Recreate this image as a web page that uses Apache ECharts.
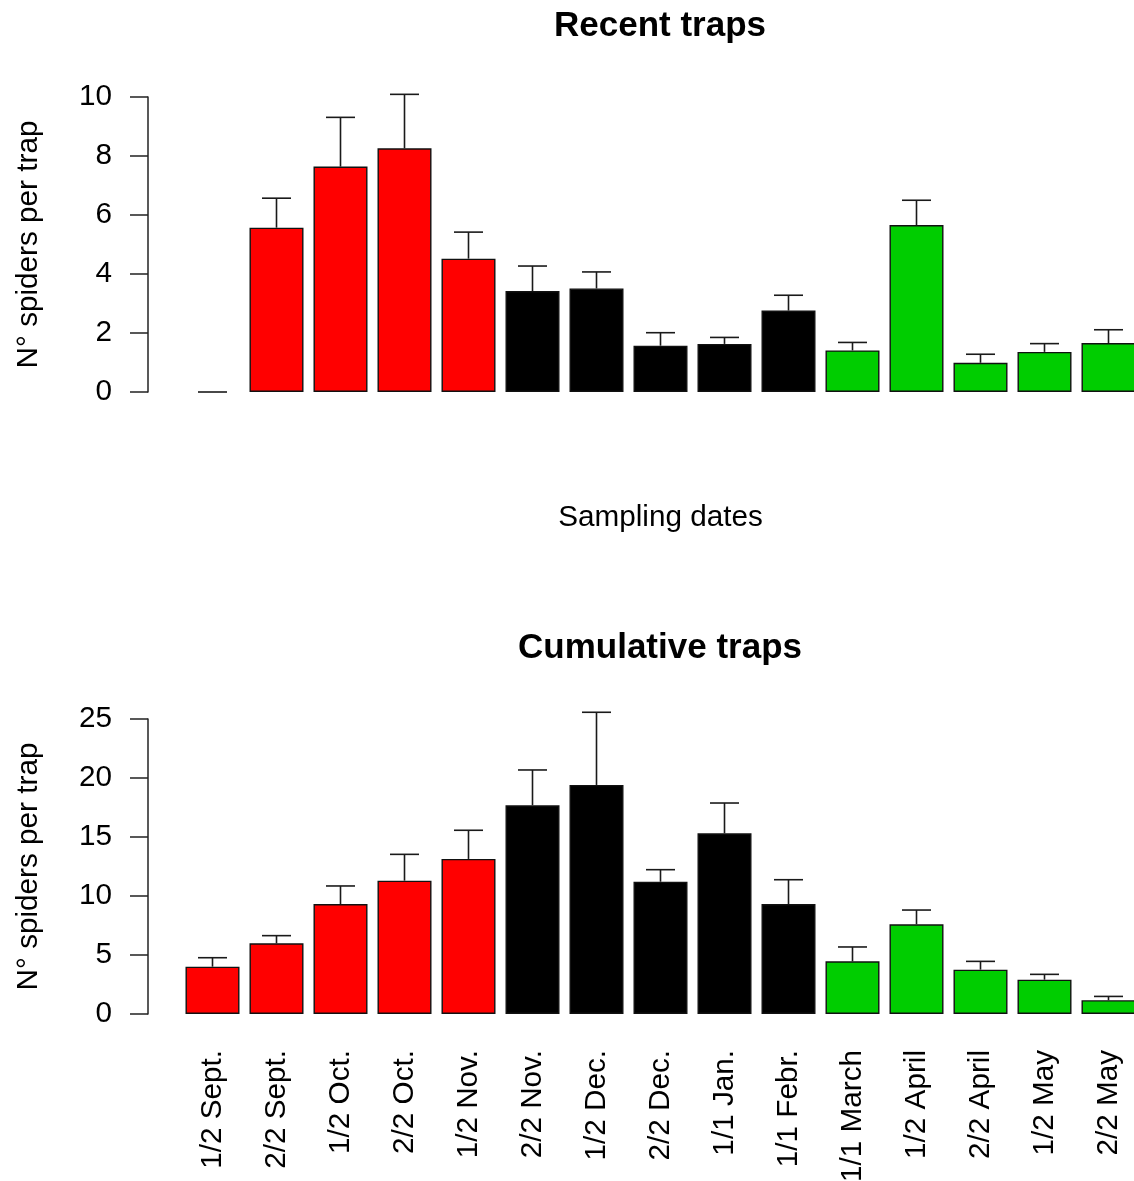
<!DOCTYPE html>
<html>
<head>
<meta charset="utf-8">
<script src="https://cdn.jsdelivr.net/npm/echarts@6/dist/echarts.min.js"></script>
<style>
  html, body { margin: 0; padding: 0; background: #fff; }
  #chart { width: 1134px; height: 1181px; }
</style>
</head>
<body>
<div id="chart"></div>
<script>
const categories = ['1/2 Sept.', '2/2 Sept.', '1/2 Oct.', '2/2 Oct.', '1/2 Nov.',
  '2/2 Nov.', '1/2 Dec.', '2/2 Dec.', '1/1 Jan.', '1/1 Febr.',
  '1/1 March', '1/2 April', '2/2 April', '1/2 May', '2/2 May'];
// season group per sampling date (0 = autumn, 1 = winter, 2 = spring)
const seasonGroup = [0, 0, 0, 0, 0, 1, 1, 1, 1, 1, 2, 2, 2, 2, 2];

const recentMean = [0, 5.57, 7.64, 8.26, 4.52, 3.42, 3.51, 1.57, 1.63, 2.76, 1.41, 5.66, 0.99, 1.36, 1.66];
const recentSE   = [0, 1.00, 1.67, 1.83, 0.90, 0.85, 0.56, 0.44, 0.22, 0.52, 0.27, 0.84, 0.29, 0.28, 0.45];

const cumulMean = [4.01, 5.99, 9.32, 11.30, 13.14, 17.69, 19.41, 11.21, 15.31, 9.32, 4.46, 7.60, 3.76, 2.91, 1.17];
const cumulSE   = [0.76, 0.65, 1.53, 2.23, 2.43, 2.99, 6.16, 1.02, 2.57, 2.06, 1.22, 1.21, 0.70, 0.45, 0.32];

const recentTicks = { min: 0, max: 10, interval: 2 };
const cumulTicks = { min: 0, max: 25, interval: 5 };

const titles = ['Recent traps', 'Cumulative traps'];
const yTitle = 'N° spiders per trap';
const xTitle = 'Sampling dates';

const FONT = '"Liberation Sans", Arial, Helvetica, sans-serif';
const FS = 29.7;
const palette = ['#FF0000', '#000000', '#00CD00'];

function barData(means) {
  return means.map((v, i) => ({
    value: v,
    itemStyle: {
      color: palette[seasonGroup[i]],
      borderColor: '#111',
      borderWidth: v === 0 ? 0 : 1.4
    }
  }));
}
function errData(means, se) {
  return means.map((v, i) => [i, v, v + se[i]]);
}
function errItem(params, api) {
  const x = api.value(0);
  const p0 = api.coord([x, api.value(1)]);
  const p1 = api.coord([x, api.value(2)]);
  const hw = 14.5;
  const st = { stroke: '#1a1a1a', lineWidth: 1.6 };
  return {
    type: 'group',
    children: [
      { type: 'line', shape: { x1: p0[0], y1: p0[1], x2: p1[0], y2: p1[1] }, style: st },
      { type: 'line', shape: { x1: p1[0] - hw, y1: p1[1], x2: p1[0] + hw, y2: p1[1] }, style: st }
    ]
  };
}

const gridLeft = 180.5, gridWidth = 960;
const axisLineX = 148;

function yAxisCfg(gridIndex, ticks) {
  return {
    type: 'value', gridIndex: gridIndex,
    min: ticks.min, max: ticks.max, interval: ticks.interval,
    offset: gridLeft - axisLineX,
    name: yTitle, nameLocation: 'middle', nameGap: 104,
    nameTextStyle: { fontFamily: FONT, fontSize: FS, color: '#000' },
    axisLine: { show: true, lineStyle: { color: '#222', width: 1.5 } },
    axisTick: { show: true, length: 18, lineStyle: { color: '#222', width: 1.5 } },
    axisLabel: { margin: 36, fontFamily: FONT, fontSize: FS, color: '#000' },
    splitLine: { show: false }
  };
}

const chart = echarts.init(document.getElementById('chart'), null, { renderer: 'canvas' });
chart.setOption({
  animation: false,
  backgroundColor: '#fff',
  title: [
    { text: titles[0], left: 660, top: 9, textAlign: 'center', padding: 0,
      textStyle: { fontFamily: FONT, fontSize: 35, fontWeight: 'bold', color: '#000' } },
    { text: titles[1], left: 660, top: 631, textAlign: 'center', padding: 0,
      textStyle: { fontFamily: FONT, fontSize: 35, fontWeight: 'bold', color: '#000' } }
  ],
  grid: [
    { left: gridLeft, width: gridWidth, top: 97, height: 295, outerBoundsMode: 'none', containLabel: false },
    { left: gridLeft, width: gridWidth, top: 719, height: 295, outerBoundsMode: 'none', containLabel: false }
  ],
  xAxis: [
    { type: 'category', gridIndex: 0, data: categories,
      name: xTitle, nameLocation: 'middle', nameGap: 111,
      nameTextStyle: { fontFamily: FONT, fontSize: FS, color: '#000' },
      axisLine: { show: false }, axisTick: { show: false }, axisLabel: { show: false } },
    { type: 'category', gridIndex: 1, data: categories,
      axisLine: { show: false }, axisTick: { show: false },
      axisLabel: { rotate: 90, margin: 36, interval: 0, fontFamily: FONT, fontSize: FS, color: '#000' } }
  ],
  yAxis: [ yAxisCfg(0, recentTicks), yAxisCfg(1, cumulTicks) ],
  series: [
    { type: 'bar', xAxisIndex: 0, yAxisIndex: 0, barWidth: 54, data: barData(recentMean) },
    { type: 'custom', xAxisIndex: 0, yAxisIndex: 0, clip: false, z: 5,
      renderItem: errItem, encode: { x: 0, y: [1, 2] }, data: errData(recentMean, recentSE) },
    { type: 'bar', xAxisIndex: 1, yAxisIndex: 1, barWidth: 54, data: barData(cumulMean) },
    { type: 'custom', xAxisIndex: 1, yAxisIndex: 1, clip: false, z: 5,
      renderItem: errItem, encode: { x: 0, y: [1, 2] }, data: errData(cumulMean, cumulSE) }
  ]
});
</script>
</body>
</html>
